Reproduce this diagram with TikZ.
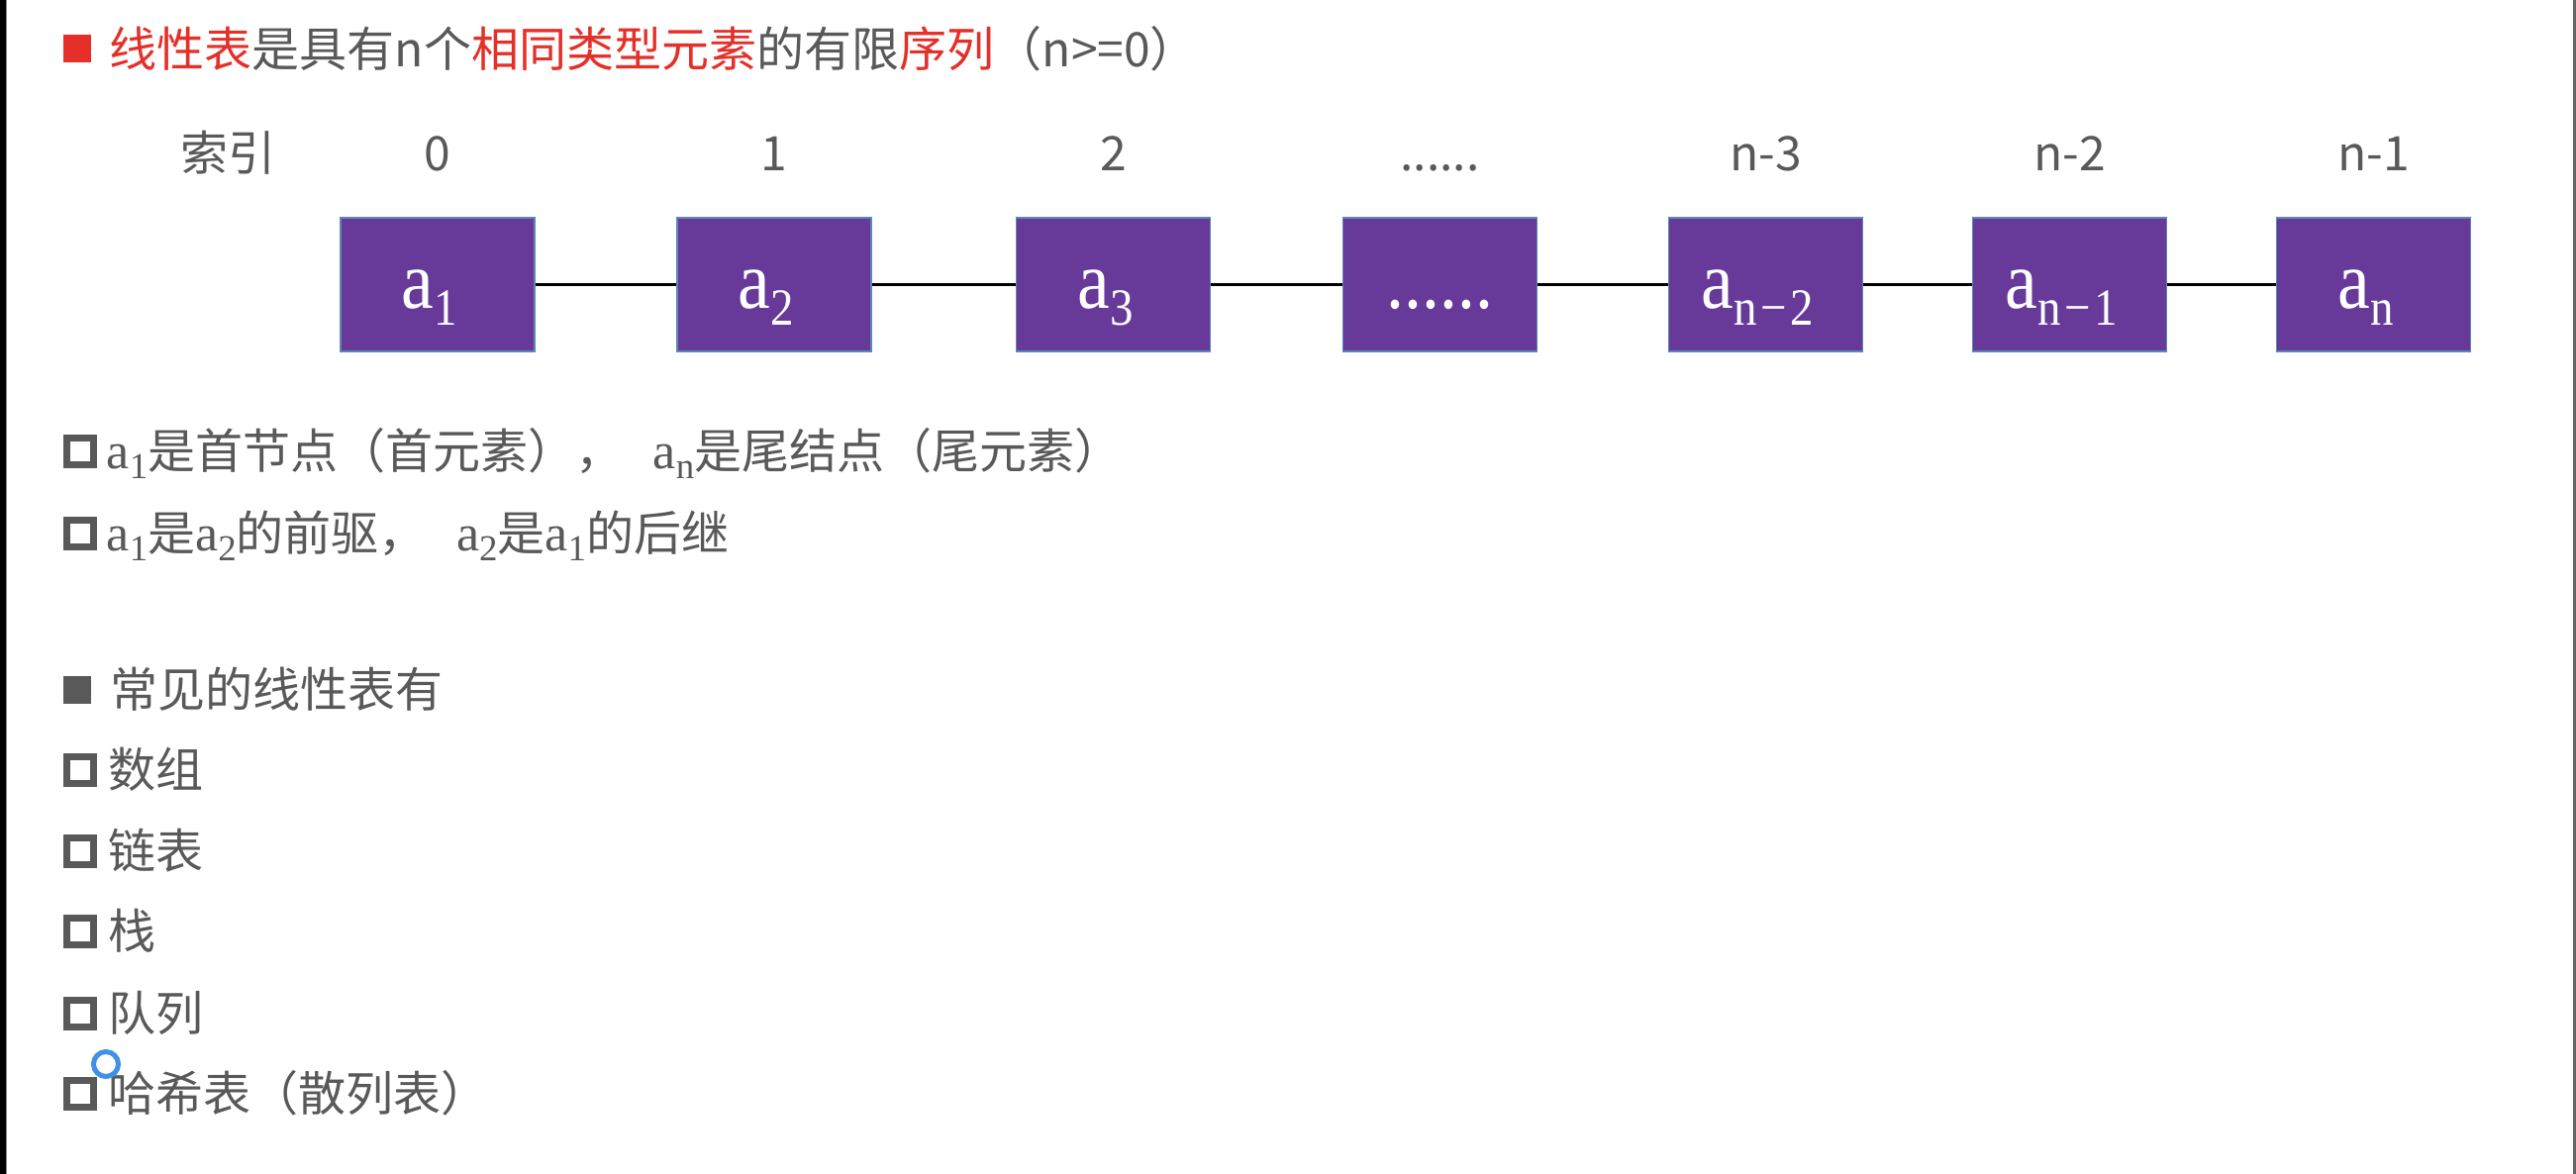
\documentclass[tikz,border=0pt]{standalone}
\usepackage{fontspec}
\usepackage{graphicx}
\newfontfamily\cjk{Noto Sans CJK SC}
\newfontfamily\serifa{Liberation Serif}
\definecolor{txtgray}{RGB}{89,89,89}
\definecolor{titlered}{RGB}{228,48,40}
\definecolor{boxpurple}{RGB}{103,58,154}
\definecolor{boxedge}{RGB}{91,135,185}
\definecolor{cursorblue}{RGB}{64,145,230}
\newcommand{\boxa}[1]{\scalebox{0.89}[1]{\serifa\fontsize{23.5pt}{24pt}\selectfont a\raisebox{-4.6pt}{\fontsize{15pt}{16pt}\selectfont #1}}}
\newcommand{\ina}[1]{{\serifa\fontsize{14.8pt}{16pt}\selectfont a\raisebox{-2.8pt}{\fontsize{10.5pt}{11pt}\selectfont #1}}}
\begin{document}
\begin{tikzpicture}[x=0.01cm,y=-0.01cm,
 elem/.style={draw=boxedge, line width=0.015cm, fill=boxpurple, minimum width=1.96cm, minimum height=1.35cm, inner sep=0},
 elemlabel/.style={anchor=base, text=white, inner sep=0},
 idx/.style={anchor=base, text=txtgray, inner sep=0, font=\cjk\fontsize{13.66pt}{16pt}\selectfont},
 body/.style={anchor=base west, text=txtgray, inner sep=0, font=\cjk\fontsize{13.66pt}{16pt}\selectfont},
 hollowsq/.style={draw=txtgray, line width=0.07cm, minimum size=0.27cm, inner sep=0},
 fullsq/.style={fill=#1, minimum size=0.28cm, inner sep=0},
 link/.style={draw=black, line width=0.028cm}]
\useasboundingbox (0,0) rectangle (2602,1186);
\fill[white] (0,0) rectangle (2602,1186);
\fill[black] (0,0) rectangle (6,1186);
\fill[black!45] (6,0) rectangle (7,1186);
\fill[black!60] (2599,0) rectangle (2602,1186);

% title
\node[fullsq=titlered] (tb) at (78,49) {};
\node[body] (title) at (110,68) {\textcolor{titlered}{线性表}是具有n个\textcolor{titlered}{相同类型元素}的有限\textcolor{titlered}{序列}（n>=0）};

% index row
\node[body] (idxlabel) at (182,173) {索引};
\node[idx] (i1) at (442,173) {0};
\node[idx] (i2) at (782,173) {1};
\node[idx] (i3) at (1124.5,173) {2};
\node[idx] (i4) at (1454.5,173) {......};
\node[idx] (i5) at (1783.5,173) {n-3};
\node[idx] (i6) at (2090.5,173) {n-2};
\node[idx] (i7) at (2397.5,173) {n-1};

% boxes
\node[elem] (b1) at (442,287.5) {};
\node[elem] (b2) at (782,287.5) {};
\node[elem] (b3) at (1124.5,287.5) {};
\node[elem] (b4) at (1454.5,287.5) {};
\node[elem] (b5) at (1783.5,287.5) {};
\node[elem] (b6) at (2090.5,287.5) {};
\node[elem] (b7) at (2397.5,287.5) {};
\draw[link] (b1) -- (b2);
\draw[link] (b2) -- (b3);
\draw[link] (b3) -- (b4);
\draw[link] (b4) -- (b5);
\draw[link] (b5) -- (b6);
\draw[link] (b6) -- (b7);
\node[elemlabel] (l1) at (434,312) {\boxa{1}};
\node[elemlabel] (l2) at (774,312) {\boxa{2}};
\node[elemlabel] (l3) at (1116.5,312) {\boxa{3}};
\node[elemlabel] (l4) at (1454.5,312) {\scalebox{0.89}[1]{\serifa\fontsize{22.9pt}{24pt}\selectfont ......}};
\node[elemlabel] (l5) at (1775.5,312) {\boxa{n\hspace{0.08em}−\hspace{0.08em}2}};
\node[elemlabel] (l6) at (2082.5,312) {\boxa{n\hspace{0.08em}−\hspace{0.08em}1}};
\node[elemlabel] (l7) at (2389.5,312) {\boxa{n}};

% description rows
\node[hollowsq] (r1b) at (81,456) {};
\node[body] (r1) at (107,474) {\ina{1}是首节点（首元素），\hspace{0.3cm}\ina{n}是尾结点（尾元素）};
\node[hollowsq] (r2b) at (81,539) {};
\node[body] (r2) at (107,557) {\ina{1}是\ina{2}的前驱，\hspace{0.3cm}\ina{2}是\ina{1}的后继};

% list of common linear tables
\node[fullsq=txtgray] (sb) at (78,697) {};
\node[body] (s) at (111,715) {常见的线性表有};
\node[hollowsq] (k1b) at (81,778) {};
\node[body] (k1) at (109,796) {数组};
\node[hollowsq] (k2b) at (81,860) {};
\node[body] (k2) at (109,878) {链表};
\node[hollowsq] (k3b) at (81,941) {};
\node[body] (k3) at (109,959) {栈};
\node[hollowsq] (k4b) at (81,1024) {};
\node[body] (k4) at (109,1042) {队列};
\node[hollowsq] (k5b) at (81,1105) {};
\node[body] (k5) at (109,1123) {哈希表（散列表）};

% cursor ring
\draw[cursorblue, line width=0.05cm] (107,1075) circle[radius=0.125cm];
\end{tikzpicture}
\end{document}
